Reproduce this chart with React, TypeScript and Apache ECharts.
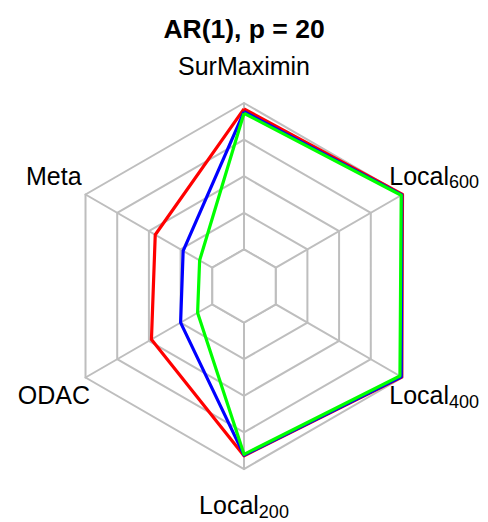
import React, { useEffect, useRef } from "react";
import * as echarts from "echarts";

// Indicators, in ECharts order (counter-clockwise from the top)
const indicatorNames = ["SurMaximin", "Meta", "ODAC", "Local200", "Local400", "Local600"];
const indicatorMain = ["SurMaximin", "Meta", "ODAC", "Local", "Local", "Local"];
const indicatorSub = ["", "", "", "200", "400", "600"];

// Values on the 0..1 scale (inner hexagon = 0, outer hexagon = 1)
const redValues = [0.96, 0.45, 0.48, 0.91, 0.994, 1.0];
const blueValues = [0.94, 0.23, 0.25, 0.905, 0.99, 0.994];
const greenValues = [0.93, 0.1, 0.116, 0.9, 0.98, 0.99];

const seriesNames = ["red", "blue", "green"];
const seriesColors = ["#FF0000", "#0000FF", "#00FF00"];

const CX = 244;
const CY = 286;
const R = 183;
const FONT = "'Liberation Sans', Arial, sans-serif";

export default function App() {
  const ref = useRef<HTMLDivElement>(null);
  useEffect(() => {
    if (!ref.current) return;
    const chart = echarts.init(ref.current, null, { renderer: "svg" });
    const n = indicatorNames.length;
    const labels = indicatorNames.map((name, i) => {
      const ang = ((90 + (i * 360) / n) * Math.PI) / 180;
      const x = CX + 1.2 * R * Math.cos(ang);
      const y = CY - 1.2 * R * Math.sin(ang);
      const text = indicatorSub[i]
        ? `{m|${indicatorMain[i]}}{s|${indicatorSub[i]}}`
        : `{m|${indicatorMain[i]}}`;
      return {
        type: "text",
        x,
        y,
        style: {
          text,
          align: "center",
          verticalAlign: "middle",
          rich: {
            m: { fontSize: 25, fontFamily: FONT, fill: "#000", lineHeight: 26, verticalAlign: "top" },
            s: {
              fontSize: 18,
              fontFamily: FONT,
              fill: "#000",
              lineHeight: 10,
              verticalAlign: "top",
              padding: [10, 0, 0, 0],
            },
          },
        },
      };
    });
    const seriesData = [redValues, blueValues, greenValues];
    chart.setOption({
      animation: false,
      backgroundColor: "#fff",
      title: {
        text: "AR(1), p = 20",
        left: "center",
        top: 10,
        textStyle: { fontSize: 26.5, fontWeight: "bold", fontFamily: FONT, color: "#000" },
      },
      radar: [
        {
          center: [CX, CY],
          radius: R,
          startAngle: 90,
          splitNumber: 5,
          shape: "polygon",
          indicator: indicatorNames.map((name) => ({ name, min: -0.25, max: 1 })),
          axisName: { show: false },
          axisLine: { show: true, lineStyle: { color: "#BEBEBE", width: 2 } },
          splitLine: { show: true, lineStyle: { color: "#BEBEBE", width: 2 } },
          splitArea: { show: false },
          axisTick: { show: false },
          axisLabel: { show: false },
          z: 2,
        },
        {
          center: [CX, CY],
          radius: R / 5,
          startAngle: 90,
          splitNumber: 1,
          shape: "polygon",
          indicator: indicatorNames.map((name) => ({ name, min: 0, max: 1 })),
          axisName: { show: false },
          axisLine: { show: false },
          splitLine: { show: true, lineStyle: { color: "#BEBEBE", width: 2 } },
          splitArea: { show: true, areaStyle: { color: ["#ffffff"], opacity: 1 } },
          axisTick: { show: false },
          axisLabel: { show: false },
          silent: true,
          z: 3,
        },
      ],
      series: seriesData.map((vals, k) => ({
        type: "radar",
        radarIndex: 0,
        name: seriesNames[k],
        z: 5 + k,
        symbol: "none",
        lineStyle: { color: seriesColors[k], width: 3.2 },
        itemStyle: { color: seriesColors[k] },
        data: [{ value: vals, name: seriesNames[k] }],
      })),
      graphic: labels,
    });
    return () => chart.dispose();
  }, []);
  return (
    <div
      ref={ref}
      style={{ position: "absolute", left: 0, top: 0, width: 488, height: 522 }}
    />
  );
}
